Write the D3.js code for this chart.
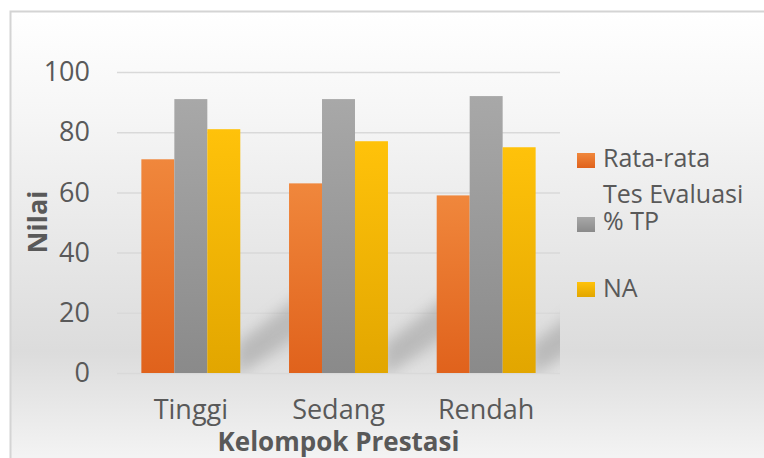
<!DOCTYPE html>
<html>
<head>
<meta charset="utf-8">
<script src="https://cdn.jsdelivr.net/npm/d3@7"></script>
<style>
  html, body { margin: 0; padding: 0; background: #ffffff; }
  svg { display: block; }
  text { font-family: "Open Sans", "DejaVu Sans", sans-serif; fill: #595959; }
</style>
</head>
<body>
<script>
const categories = ["Tinggi", "Sedang", "Rendah"];
const seriesNames = ["Rata-rata Tes Evaluasi", "% TP", "NA"];
const rataRata = [71, 63, 59];
const persenTP = [91, 91, 92];
const nilaiAkhir = [81, 77, 75];
const yTicks = [0, 20, 40, 60, 80, 100];
const xTitle = "Kelompok Prestasi";
const yTitle = "Nilai";

const seriesValues = [rataRata, persenTP, nilaiAkhir];
const colorsTop = ["#f0873c", "#a8a8a8", "#ffc20a"];
const colorsBot = ["#e0621c", "#8a8a8a", "#e2a600"];

const W = 764, H = 458;
const svg = d3.select("body").append("svg").attr("width", W).attr("height", H);
const defs = svg.append("defs");

// background gradient
const bg = defs.append("linearGradient").attr("id", "bg").attr("x1", 0).attr("y1", 0).attr("x2", 0).attr("y2", 1);
bg.append("stop").attr("offset", "0%").attr("stop-color", "#ffffff");
bg.append("stop").attr("offset", "20%").attr("stop-color", "#f6f6f6");
bg.append("stop").attr("offset", "68%").attr("stop-color", "#dcdcdc");
bg.append("stop").attr("offset", "100%").attr("stop-color", "#ffffff");

seriesNames.forEach((s, i) => {
  const g = defs.append("linearGradient").attr("id", "bar" + i).attr("x1", 0).attr("y1", 0).attr("x2", 0).attr("y2", 1);
  g.append("stop").attr("offset", "0%").attr("stop-color", colorsTop[i]);
  g.append("stop").attr("offset", "100%").attr("stop-color", colorsBot[i]);
});

const blur = defs.append("filter").attr("id", "blur").attr("x", "-50%").attr("y", "-50%").attr("width", "200%").attr("height", "200%");
blur.append("feGaussianBlur").attr("stdDeviation", 7);

// frame
svg.append("rect").attr("x", 10.5).attr("y", 11.5).attr("width", 800).attr("height", 500)
  .attr("fill", "url(#bg)").attr("stroke", "#d4d4d4").attr("stroke-width", 2);

const plot = { left: 117, right: 560, top: 72, bottom: 373 };

const x = d3.scaleBand().domain(categories).range([plot.left, plot.right])
  .paddingInner(0.33).paddingOuter(0.165);
const xs = d3.scaleBand().domain(seriesNames).range([0, x.bandwidth()]).padding(0);
const y = d3.scaleLinear().domain([0, 100]).range([plot.bottom, plot.top]);

defs.append("clipPath").attr("id", "plotclip").append("rect")
  .attr("x", plot.left).attr("y", plot.top).attr("width", plot.right - plot.left).attr("height", plot.bottom - plot.top);

// gridlines
const yAxis = d3.axisLeft(y).tickValues(yTicks).tickSize(-(plot.right - plot.left)).tickPadding(27);
const gy = svg.append("g").attr("transform", `translate(${plot.left},0)`).call(yAxis);
gy.select(".domain").remove();
gy.selectAll(".tick line").attr("stroke", "#d9d9d9").attr("stroke-width", 1.5);
gy.selectAll(".tick text").attr("font-size", 27).attr("fill", "#595959")
  .style("font-family", "'Open Sans', sans-serif");

// decorative shadows
const sh = svg.append("g").attr("clip-path", "url(#plotclip)");
sh.selectAll("path").data(categories).join("path")
  .attr("d", c => {
    const x1 = x(c) + x.bandwidth();
    const y0 = y(0);
    return `M${x1 - 4},${y0 + 4} L${x1 - 4},${y0 - 28} L${x1 + 62},${y0 - 80} L${x1 + 62},${y0 - 40} Z`;
  })
  .attr("fill", "#8a8a8a").attr("opacity", 0.42).attr("filter", "url(#blur)");

// bars
const groups = svg.append("g").selectAll("g").data(categories).join("g")
  .attr("transform", c => `translate(${x(c)},0)`);
groups.selectAll("rect").data((c, ci) => seriesNames.map((s, si) => ({ s, si, v: seriesValues[si][ci] })))
  .join("rect")
  .attr("x", d => xs(d.s))
  .attr("width", xs.bandwidth())
  .attr("y", d => y(d.v))
  .attr("height", d => y(0) - y(d.v))
  .attr("fill", d => `url(#bar${d.si})`);

// x axis labels
const xAxis = d3.axisBottom(x).tickSize(0).tickPadding(27);
const gx = svg.append("g").attr("transform", `translate(0,${plot.bottom})`).call(xAxis);
gx.select(".domain").remove();
gx.selectAll(".tick text").attr("font-size", 27).attr("fill", "#595959")
  .style("font-family", "'Open Sans', sans-serif");

// axis titles
svg.append("text").attr("x", (plot.left + plot.right) / 2).attr("y", 451)
  .attr("text-anchor", "middle").attr("font-size", 26).attr("font-weight", "bold").text(xTitle);
svg.append("text").attr("transform", "translate(47,222) rotate(-90)")
  .attr("text-anchor", "middle").attr("font-size", 27).attr("font-weight", "bold").text(yTitle);

// legend
const legendRows = [
  { si: 0, sq: 153, lines: [["Rata-rata", 167], ["Tes Evaluasi", 203]] },
  { si: 1, sq: 217, lines: [["% TP", 230]] },
  { si: 2, sq: 282, lines: [["NA", 297]] }
];
const lg = svg.append("g");
legendRows.forEach(r => {
  lg.append("rect").attr("x", 577).attr("y", r.sq).attr("width", 18).attr("height", 15)
    .attr("fill", `url(#bar${r.si})`);
  r.lines.forEach(([t, by]) => {
    lg.append("text").attr("x", 603).attr("y", by).attr("font-size", 25).text(t);
  });
});
</script>
</body>
</html>
